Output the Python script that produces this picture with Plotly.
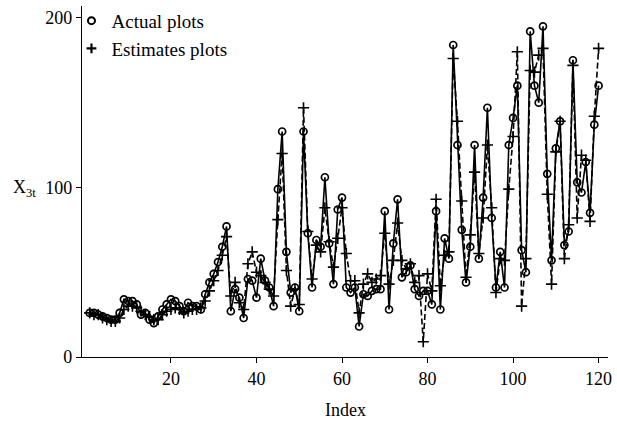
import plotly.graph_objects as go

index = list(range(1, 121))

actual = [26, 26, 25, 24, 23, 22, 22, 26, 34, 33,
          33, 31, 25, 26, 22, 20, 24, 28, 31, 34,
          33, 30, 27, 32, 30, 30, 28, 37, 44, 49,
          56, 65, 77, 27, 40, 35, 23, 46, 45, 35,
          58, 45, 41, 30, 99, 133, 62, 38, 41, 27,
          133, 73, 41, 69, 65, 106, 67, 43, 87, 94,
          41, 38, 41, 18, 37, 36, 39, 40, 40, 86,
          28, 67, 93, 47, 50, 54, 40, 36, 39, 39,
          31, 86, 28, 70, 58, 184, 125, 75, 44, 65,
          125, 58, 94, 147, 82, 41, 62, 41, 125, 141,
          160, 63, 50, 192, 160, 150, 195, 108, 57, 123,
          139, 66, 74, 175, 103, 97, 115, 85, 137, 160]

estimates = [26, 25, 25, 23, 22, 21, 21, 23, 28, 30,
             30, 29, 27, 25, 24, 22, 22, 25, 27, 28,
             29, 28, 26, 27, 28, 28, 29, 33, 39, 45,
             51, 60, 71, 36, 44, 32, 28, 55, 62, 50,
             48, 44, 40, 36, 81, 120, 51, 30, 40, 31,
             147, 74, 46, 66, 62, 88, 68, 53, 70, 88,
             61, 45, 45, 26, 43, 49, 44, 46, 48, 73,
             43, 57, 79, 57, 52, 55, 44, 48, 9, 49,
             39, 93, 42, 60, 62, 176, 139, 92, 47, 72,
             109, 61, 82, 125, 88, 38, 58, 57, 99, 130,
             180, 30, 58, 169, 168, 178, 182, 96, 43, 121,
             139, 58, 78, 172, 82, 119, 116, 80, 142, 182]

x_ticks = [20, 40, 60, 80, 100, 120]
y_ticks = [0, 100, 200]

FONT = "Liberation Serif, Times New Roman, serif"

fig = go.Figure()

fig.add_trace(go.Scatter(
    x=index, y=estimates, mode="lines+markers", showlegend=False,
    line=dict(color="black", width=1.6, dash="6px,3px"),
    marker=dict(symbol="cross-thin-open", size=8, color="black",
                line=dict(color="black", width=1.6)),
))
fig.add_trace(go.Scatter(
    x=index, y=actual, mode="lines+markers", showlegend=False,
    line=dict(color="black", width=1.6),
    marker=dict(symbol="circle-open", size=7, color="black",
                line=dict(color="black", width=1.7)),
))
# legend entries (markers only, like the reference)
fig.add_trace(go.Scatter(
    x=[None], y=[None], mode="markers", name="Actual plots",
    marker=dict(symbol="circle-open", size=7, color="black",
                line=dict(color="black", width=2)),
))
fig.add_trace(go.Scatter(
    x=[None], y=[None], mode="markers", name="Estimates plots",
    marker=dict(symbol="cross-thin-open", size=7, color="black",
                line=dict(color="black", width=2.2)),
))

fig.update_layout(
    width=617, height=423,
    margin=dict(l=82, r=9, t=2, b=66),
    paper_bgcolor="white", plot_bgcolor="white",
    font=dict(family=FONT, size=18, color="black"),
    legend=dict(x=-0.02, y=1.012, xanchor="left", yanchor="top",
                bgcolor="rgba(0,0,0,0)", font=dict(size=19),
                itemwidth=30, tracegroupgap=0),
    xaxis=dict(range=[-0.8, 122.2], tickvals=x_ticks, ticks="outside",
               ticklen=5, tickwidth=1, tickcolor="black",
               showline=True, linecolor="black", linewidth=1.2,
               showgrid=False, zeroline=False,
               tickfont=dict(family=FONT, size=18)),
    yaxis=dict(range=[0, 207], tickvals=y_ticks, ticks="outside",
               ticklen=5, tickwidth=1, tickcolor="black",
               showline=True, linecolor="black", linewidth=1.2,
               showgrid=False, zeroline=False,
               tickfont=dict(family=FONT, size=18)),
    showlegend=True,
)

fig.add_annotation(text="X<sub>3t</sub>", xref="paper", yref="paper",
                   x=-0.11, y=0.48, showarrow=False, xanchor="center",
                   yanchor="middle", font=dict(family=FONT, size=18))
fig.add_annotation(text="Index", xref="paper", yref="paper",
                   x=0.5, y=-0.15, showarrow=False, xanchor="center",
                   yanchor="middle", font=dict(family=FONT, size=18))

fig.write_html("out.html", config={"displayModeBar": False},
               post_script="document.body.style.margin='0';document.body.style.padding='0';")
